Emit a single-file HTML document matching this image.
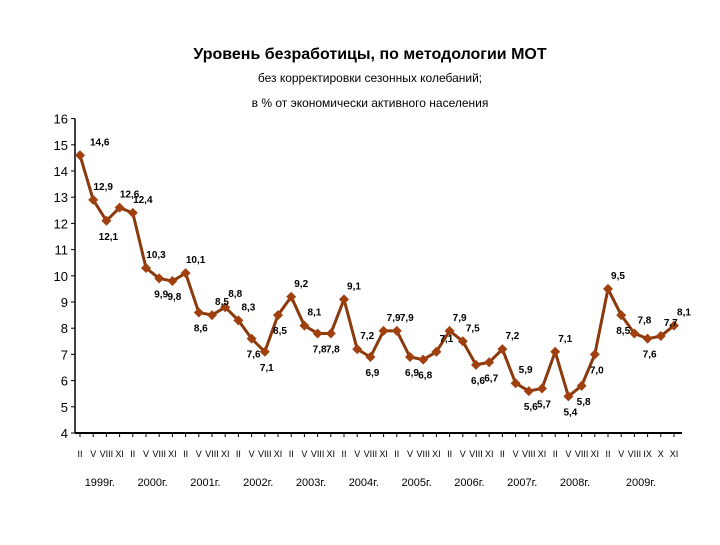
<!DOCTYPE html>
<html><head><meta charset="utf-8"><style>
body{margin:0;background:#fff;}
svg text{font-family:"Liberation Sans","DejaVu Sans",sans-serif;}
</style></head><body>
<svg id="chart" width="720" height="540" viewBox="0 0 720 540" xmlns="http://www.w3.org/2000/svg">
<text x="370" y="59" text-anchor="middle" font-size="16" font-weight="bold" fill="#000">Уровень безработицы, по методологии МОТ</text>
<text x="370" y="82" text-anchor="middle" font-size="12" fill="#000">без корректировки сезонных колебаний;</text>
<text x="370" y="107" text-anchor="middle" font-size="12" fill="#000">в % от экономически активного населения</text>
<g id="axes"></g><g id="series"></g><g id="labels"></g>
</svg>
<script>
const values=[14.6,12.9,12.1,12.6,12.4,10.3,9.9,9.8,10.1,8.6,8.5,8.8,8.3,7.6,7.1,8.5,9.2,8.1,7.8,7.8,9.1,7.2,6.9,7.9,7.9,6.9,6.8,7.1,7.9,7.5,6.6,6.7,7.2,5.9,5.6,5.7,7.1,5.4,5.8,7.0,9.5,8.5,7.8,7.6,7.7,8.1];
const months=["II","V","VIII","XI","II","V","VIII","XI","II","V","VIII","XI","II","V","VIII","XI","II","V","VIII","XI","II","V","VIII","XI","II","V","VIII","XI","II","V","VIII","XI","II","V","VIII","XI","II","V","VIII","XI","II","V","VIII","IX","X","XI"];
const years=["1999г.","2000г.","2001г.","2002г.","2003г.","2004г.","2005г.","2006г.","2007г.","2008г.","2009г."];
const yearStart=[0,4,8,12,16,20,24,28,32,36,40];
const yearCount=[4,4,4,4,4,4,4,4,4,4,6];
const yTicks=[4,5,6,7,8,9,10,11,12,13,14,15,16];
const below=[2,6,7,9,13,14,15,18,19,22,25,26,30,31,34,35,37,38,39,41,43];
const NS="http://www.w3.org/2000/svg";
const x=i=>80+i*(594/(values.length-1));
const y=v=>433-(v-4)*26.2;
const fmt=v=>v.toFixed(1).replace(".",",");
function mk(tag,attrs,parent,txt){const e=document.createElementNS(NS,tag);for(const k in attrs)e.setAttribute(k,attrs[k]);if(txt!==undefined)e.textContent=txt;parent.appendChild(e);return e;}
const ax=document.getElementById("axes"),sr=document.getElementById("series"),lb=document.getElementById("labels");
let l=mk("line",{x1:75,y1:y(16),x2:75,y2:433,stroke:"#000","stroke-width":1.5},ax);

l=mk("line",{x1:75,y1:433,x2:682,y2:433,stroke:"#000","stroke-width":2},ax);

yTicks.forEach(t=>{mk("line",{x1:71,y1:y(t),x2:75,y2:y(t),stroke:"#000"},ax);
const e=mk("text",{x:68,y:y(t)+5,"text-anchor":"end","font-size":13,fill:"#000"},ax,String(t));
});
months.forEach((m,i)=>{mk("line",{x1:x(i),y1:433,x2:x(i),y2:437,stroke:"#000"},ax);
const e=mk("text",{x:x(i),y:457,"text-anchor":"middle","font-size":9,fill:"#000"},ax,m);
});
years.forEach((yr,k)=>{const c=(x(yearStart[k])+x(yearStart[k]+yearCount[k]-1))/2;
const e=mk("text",{x:c,y:486,"text-anchor":"middle","font-size":11,fill:"#000"},ax,yr);
});
const p=mk("polyline",{points:values.map((v,i)=>x(i)+","+y(v)).join(" "),fill:"none",stroke:"#8b3a0e","stroke-width":3},sr);

values.forEach((v,i)=>{const cx=x(i),cy=y(v);
const d=mk("polygon",{points:`${cx},${cy-5} ${cx+5},${cy} ${cx},${cy+5} ${cx-5},${cy}`,fill:"#a0400f"},sr);

const b=below.includes(i);
const t=mk("text",{x:cx+(i===0?10:(b?2:10)),y:b?cy+19:cy-10,"text-anchor":i===0?"start":"middle","font-size":10,"font-weight":"bold",fill:"#000"},lb,fmt(v));
});
</script>
</body></html>
